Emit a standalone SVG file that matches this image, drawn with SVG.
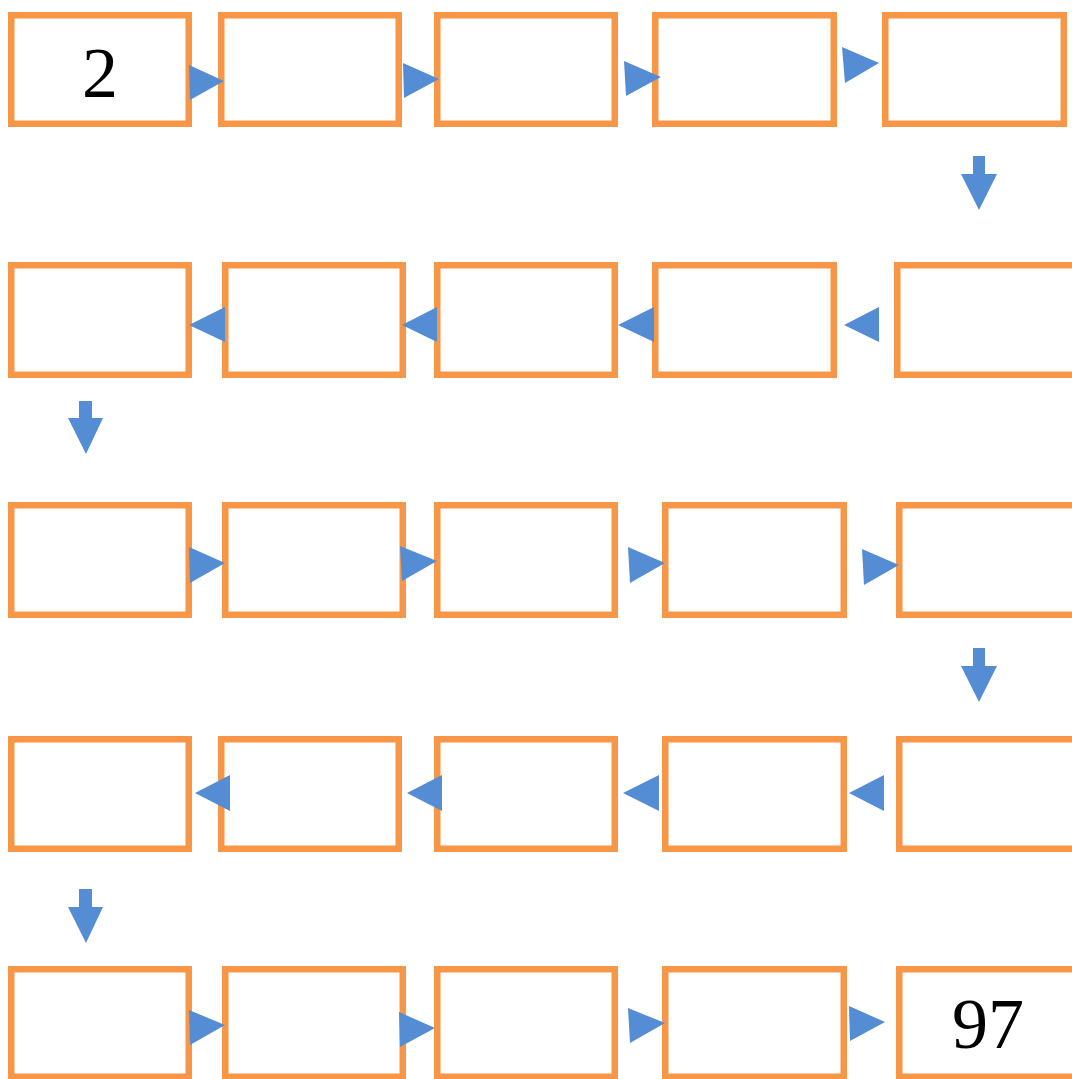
<svg xmlns="http://www.w3.org/2000/svg" width="1072" height="1079" viewBox="0 0 1072 1079">
  <style>
    .box { fill: #ffffff; stroke: #F79646; stroke-width: 6.5; }
    .arr { fill: #548DD4; stroke: none; }
    .num { font-family: "Liberation Serif", "Times New Roman", serif; font-size: 72px; fill: #000000; text-anchor: middle; }
  </style>
  <rect width="1072" height="1079" fill="#ffffff"/>

  <!-- row 1 -->
  <g id="n1"><rect class="box" x="11.25" y="15.25" width="177.5" height="108.5"/><text class="num" x="100" y="97">2</text></g>
  <g id="n2"><rect class="box" x="221.25" y="15.25" width="177.5" height="108.5"/></g>
  <g id="n3"><rect class="box" x="437.25" y="15.25" width="177.5" height="108.5"/></g>
  <g id="n4"><rect class="box" x="655.25" y="15.25" width="178.5" height="108.5"/></g>
  <g id="n5"><rect class="box" x="885.25" y="15.25" width="178.5" height="108.5"/></g>

  <!-- row 2 -->
  <g id="n6"><rect class="box" x="11.25" y="265.25" width="177.5" height="109.5"/></g>
  <g id="n7"><rect class="box" x="225.25" y="265.25" width="177.5" height="109.5"/></g>
  <g id="n8"><rect class="box" x="437.25" y="265.25" width="177.5" height="109.5"/></g>
  <g id="n9"><rect class="box" x="655.25" y="265.25" width="178.5" height="109.5"/></g>
  <g id="n10"><rect class="box" x="897.25" y="265.25" width="179.5" height="109.5"/></g>

  <!-- row 3 -->
  <g id="n11"><rect class="box" x="11.25" y="505.25" width="177.5" height="109.5"/></g>
  <g id="n12"><rect class="box" x="225.25" y="505.25" width="177.5" height="109.5"/></g>
  <g id="n13"><rect class="box" x="437.25" y="505.25" width="177.5" height="109.5"/></g>
  <g id="n14"><rect class="box" x="665.25" y="505.25" width="178.5" height="109.5"/></g>
  <g id="n15"><rect class="box" x="899.25" y="505.25" width="179.5" height="109.5"/></g>

  <!-- row 4 -->
  <g id="n16"><rect class="box" x="11.25" y="739.25" width="177.5" height="109.5"/></g>
  <g id="n17"><rect class="box" x="221.25" y="739.25" width="177.5" height="109.5"/></g>
  <g id="n18"><rect class="box" x="437.25" y="739.25" width="177.5" height="109.5"/></g>
  <g id="n19"><rect class="box" x="665.25" y="739.25" width="178.5" height="109.5"/></g>
  <g id="n20"><rect class="box" x="899.25" y="739.25" width="179.5" height="109.5"/></g>

  <!-- row 5 -->
  <g id="n21"><rect class="box" x="11.25" y="969.25" width="177.5" height="107.5"/></g>
  <g id="n22"><rect class="box" x="225.25" y="969.25" width="177.5" height="107.5"/></g>
  <g id="n23"><rect class="box" x="437.25" y="969.25" width="177.5" height="107.5"/></g>
  <g id="n24"><rect class="box" x="665.25" y="969.25" width="178.5" height="107.5"/></g>
  <g id="n25"><rect class="box" x="899.25" y="969.25" width="179.5" height="107.5"/><text class="num" x="988" y="1048">97</text></g>

  <!-- connectors: arrowheads between boxes and down arrows at row ends -->
  <g id="connectors">
    <!-- row 1, left to right -->
    <polygon class="arr" points="189,65 224,81 190,100"/>
    <polygon class="arr" points="403,63 439,79 404,98"/>
    <polygon class="arr" points="624,61 661,77 626,96"/>
    <polygon class="arr" points="842,47 879,63 845,83"/>
    <!-- down 1 -->
    <polygon class="arr" points="973,156 985,156 985,174 997,174 979,210 961,174 973,174"/>

    <!-- row 2, right to left -->
    <polygon class="arr" points="225,307 189,325 225,342"/>
    <polygon class="arr" points="437,307 402,325 437,342"/>
    <polygon class="arr" points="654,307 618,325 654,342"/>
    <polygon class="arr" points="879,307 844,325 879,342"/>
    <!-- down 2 -->
    <polygon class="arr" points="79,401 92,401 92,418 103,418 86,454 68,418 79,418"/>

    <!-- row 3, left to right -->
    <polygon class="arr" points="189,547 225,563 190,583"/>
    <polygon class="arr" points="400,546 437,561 402,581"/>
    <polygon class="arr" points="628,547 665,563 630,583"/>
    <polygon class="arr" points="862,549 899,565 864,585"/>
    <!-- down 3 -->
    <polygon class="arr" points="973,648 985,648 985,666 997,666 979,702 961,666 973,666"/>

    <!-- row 4, right to left -->
    <polygon class="arr" points="230,775 195,793 230,811"/>
    <polygon class="arr" points="442,775 407,793 442,811"/>
    <polygon class="arr" points="659,775 623,793 659,811"/>
    <polygon class="arr" points="884,775 849,793 884,811"/>
    <!-- down 4 -->
    <polygon class="arr" points="79,889 92,889 92,907 103,907 86,943 68,907 79,907"/>

    <!-- row 5, left to right -->
    <polygon class="arr" points="189,1010 225,1025 190,1045"/>
    <polygon class="arr" points="399,1012 435,1028 400,1047"/>
    <polygon class="arr" points="628,1008 665,1023 630,1043"/>
    <polygon class="arr" points="849,1006 885,1022 850,1041"/>
  </g>
</svg>
